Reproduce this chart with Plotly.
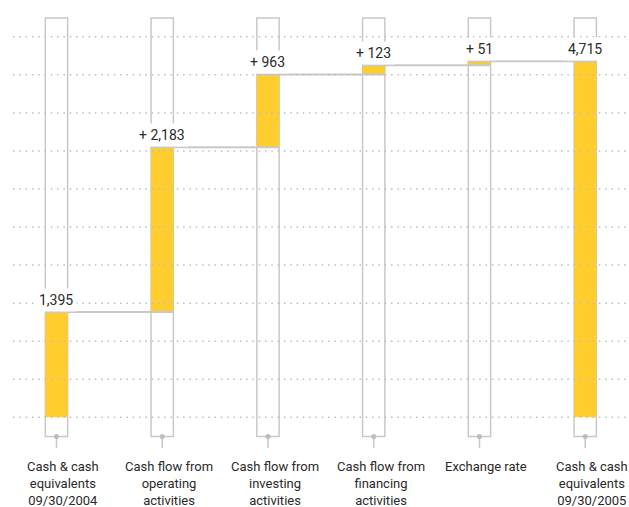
import plotly.graph_objects as go

# Cash flow bridge, in millions of euros
CATEGORIES = [
    "Cash & cash<br>equivalents<br>09/30/2004",
    "Cash flow from<br>operating<br>activities",
    "Cash flow from<br>investing<br>activities",
    "Cash flow from<br>financing<br>activities",
    "Exchange rate",
    "Cash & cash<br>equivalents<br>09/30/2005",
]
OPENING = 1395
CHANGES = [2183, 963, 123, 51]
CLOSING = 4715
VALUE_LABELS = ["1,395", "+ 2,183", "+ 963", "+ 123", "+ 51", "4,715"]

# Styling / layout constants
YELLOW = "#FFCE2E"
GREY = "#c8c8c8"
DOT_GREY = "#bcbcbc"
TEXT = "#2a2a2a"
FONT = "Roboto"
BAR_W = 0.211
GRID_STEP = 504
GRID_COUNT = 10
BOX_TOP = 5289
BOX_BOTTOM = -254
TICK_END = -407
Y_RANGE = [-1188, 5527]
X_RANGE = [-0.534, 5.414]
GRID_X0 = -0.411

# Floating segments: base and height of each yellow bar
bases, heights = [0], [OPENING]
level = OPENING
for c in CHANGES:
    bases.append(level)
    heights.append(c)
    level += c
bases.append(0)
heights.append(CLOSING)
tops = [b + h for b, h in zip(bases, heights)]
xs = list(range(len(CATEGORIES)))

fig = go.Figure()

# Outlined white columns behind every bar
fig.add_trace(go.Bar(
    x=xs, y=[BOX_TOP - BOX_BOTTOM] * len(xs), base=[BOX_BOTTOM] * len(xs),
    width=BAR_W, marker=dict(color="white", line=dict(color=GREY, width=1.5)),
    hoverinfo="skip", showlegend=False,
))

# Yellow value segments
fig.add_trace(go.Bar(
    x=xs, y=heights, base=bases, width=BAR_W,
    marker=dict(color=YELLOW, line=dict(width=0)),
    hoverinfo="skip", showlegend=False,
))

# Connectors between consecutive running totals
cx, cy = [], []
for i in range(len(xs) - 1):
    cx += [xs[i] - BAR_W / 2, xs[i + 1] + BAR_W / 2, None]
    cy += [tops[i], tops[i], None]
fig.add_trace(go.Scatter(
    x=cx, y=cy, mode="lines", line=dict(color=GREY, width=2),
    hoverinfo="skip", showlegend=False,
))

# Dotted horizontal guides, drawn over the bars
gx, gy = [], []
for k in range(GRID_COUNT + 1):
    gx += [GRID_X0, X_RANGE[1], None]
    gy += [k * GRID_STEP, k * GRID_STEP, None]
fig.add_trace(go.Scatter(
    x=gx, y=gy, mode="lines",
    line=dict(color=DOT_GREY, width=1.5, dash="1.5px,4.8px"),
    hoverinfo="skip", showlegend=False,
))

# Small stems with a dot under each column
tx, ty = [], []
for x in xs:
    tx += [x, x, None]
    ty += [BOX_BOTTOM, TICK_END, None]
fig.add_trace(go.Scatter(
    x=tx, y=ty, mode="lines", line=dict(color=GREY, width=1.5),
    hoverinfo="skip", showlegend=False,
))
fig.add_trace(go.Scatter(
    x=xs, y=[BOX_BOTTOM] * len(xs), mode="markers",
    marker=dict(color=DOT_GREY, size=5),
    hoverinfo="skip", showlegend=False,
))

# Value labels on white plates above each bar
for x, t, lab in zip(xs, tops, VALUE_LABELS):
    fig.add_annotation(
        x=x, y=t, text=lab, showarrow=False, yanchor="bottom",
        bgcolor="white", borderpad=3,
        font=dict(family=FONT, size=14, color=TEXT),
    )

# Category labels below the columns
for x, cat in zip(xs, CATEGORIES):
    fig.add_annotation(
        x=x, y=BOX_BOTTOM, text=cat, showarrow=False, yanchor="top",
        xshift=7, yshift=-21, align="center",
        font=dict(family=FONT, size=13, color=TEXT),
    )

fig.update_layout(
    width=629, height=507,
    margin=dict(l=0, r=0, t=0, b=0),
    paper_bgcolor="white", plot_bgcolor="white",
    barmode="overlay",
    xaxis=dict(range=X_RANGE, visible=False, fixedrange=True),
    yaxis=dict(range=Y_RANGE, visible=False, fixedrange=True),
)

fig.write_html("out.html")
